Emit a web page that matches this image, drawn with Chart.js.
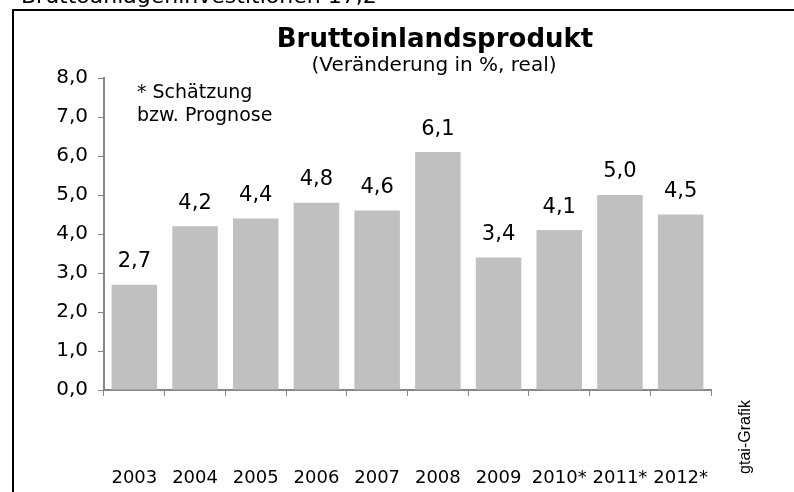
<!DOCTYPE html>
<html>
<head>
<meta charset="utf-8">
<script src="https://cdn.jsdelivr.net/npm/chart.js@4.4.0/dist/chart.umd.min.js"></script>
<style>
  html, body { margin: 0; padding: 0; background: #fff; }
  #wrap { width: 794px; height: 492px; position: relative; }
</style>
</head>
<body>
<div id="wrap"><canvas id="myChart" width="794" height="492"></canvas></div>
<script>
// data
const years = ['2003', '2004', '2005', '2006', '2007', '2008', '2009', '2010*', '2011*', '2012*'];
const bip = [2.7, 4.2, 4.4, 4.8, 4.6, 6.1, 3.4, 4.1, 5.0, 4.5];
const yTicks = [0, 1, 2, 3, 4, 5, 6, 7, 8];

const titleText = 'Bruttoinlandsprodukt';
const subText = '(Veränderung in %, real)';
const noteLines = ['* Schätzung', 'bzw. Prognose'];
const topText = 'Bruttoanlageninvestitionen 17,2';

const fmt = v => v.toFixed(1).replace('.', ',');
const FONT = '"DejaVu Sans", Verdana, sans-serif';

// frame, titles, notes
const extras = {
    id: 'extras',
    afterDraw(chart) {
        const c = chart.ctx;
        c.save();
        // cut off heading from the page above
        c.fillStyle = '#000';
        c.font = '22px ' + FONT;
        c.textAlign = 'left';
        c.textBaseline = 'alphabetic';
        c.fillText(topText, 21, 3);

        // frame
        c.fillRect(12, 9, 782, 2);
        c.fillRect(12, 9, 2, 483);

        // title
        c.textAlign = 'center';
        c.font = 'bold 26px ' + FONT;
        c.fillText(titleText, 435, 47);
        c.font = '20px ' + FONT;
        c.fillText(subText, 434, 71);

        // note
        c.textAlign = 'left';
        c.textBaseline = 'middle';
        c.font = '19px ' + FONT;
        c.fillText(noteLines[0], 137, 93);
        c.fillText(noteLines[1], 137, 116);

        // source
        c.translate(746, 437);
        c.rotate(-Math.PI / 2);
        c.textAlign = 'center';
        c.font = '16px "Liberation Sans", Arial, sans-serif';
        c.fillText('gtai-Grafik', 0, 0);
        c.restore();
    }
};

// value labels above bars
const valueLabels = {
    id: 'valueLabels',
    afterDatasetsDraw(chart) {
        const c = chart.ctx;
        const meta = chart.getDatasetMeta(0);
        c.save();
        c.fillStyle = '#000';
        c.font = '21px ' + FONT;
        c.textAlign = 'center';
        c.textBaseline = 'middle';
        meta.data.forEach((bar, i) => {
            c.fillText(fmt(bip[i]), bar.x, bar.y - 23);
        });
        c.restore();
    }
};

const ctx = document.getElementById('myChart');

new Chart(ctx, {
    type: 'bar',
    data: {
        labels: years,
        datasets: [{
            data: bip,
            backgroundColor: '#c0c0c0',
            borderWidth: 0,
            categoryPercentage: 1,
            barPercentage: 0.75
        }]
    },
    options: {
        responsive: false,
        animation: false,
        layout: { padding: { top: 78, right: 83, left: 0, bottom: 0 } },
        plugins: {
            legend: { display: false },
            tooltip: { enabled: false }
        },
        scales: {
            x: {
                grid: {
                    offset: true,
                    drawOnChartArea: false,
                    tickLength: 6,
                    color: '#868686'
                },
                border: { color: '#868686', width: 2 },
                ticks: {
                    color: '#000',
                    font: { family: FONT, size: 18 },
                    padding: 72,
                    maxRotation: 0,
                    autoSkip: false
                },
                afterFit(scale) { scale.height = 102; }
            },
            y: {
                min: 0,
                max: 8,
                afterBuildTicks(scale) { scale.ticks = yTicks.map(v => ({ value: v })); },
                grid: {
                    drawOnChartArea: false,
                    tickLength: 6,
                    color: '#868686'
                },
                border: { color: '#868686', width: 2 },
                ticks: {
                    color: '#000',
                    font: { family: FONT, size: 20 },
                    padding: 10,
                    callback: v => fmt(v)
                },
                afterFit(scale) { scale.width = 104; }
            }
        }
    },
    plugins: [extras, valueLabels]
});
</script>
</body>
</html>
